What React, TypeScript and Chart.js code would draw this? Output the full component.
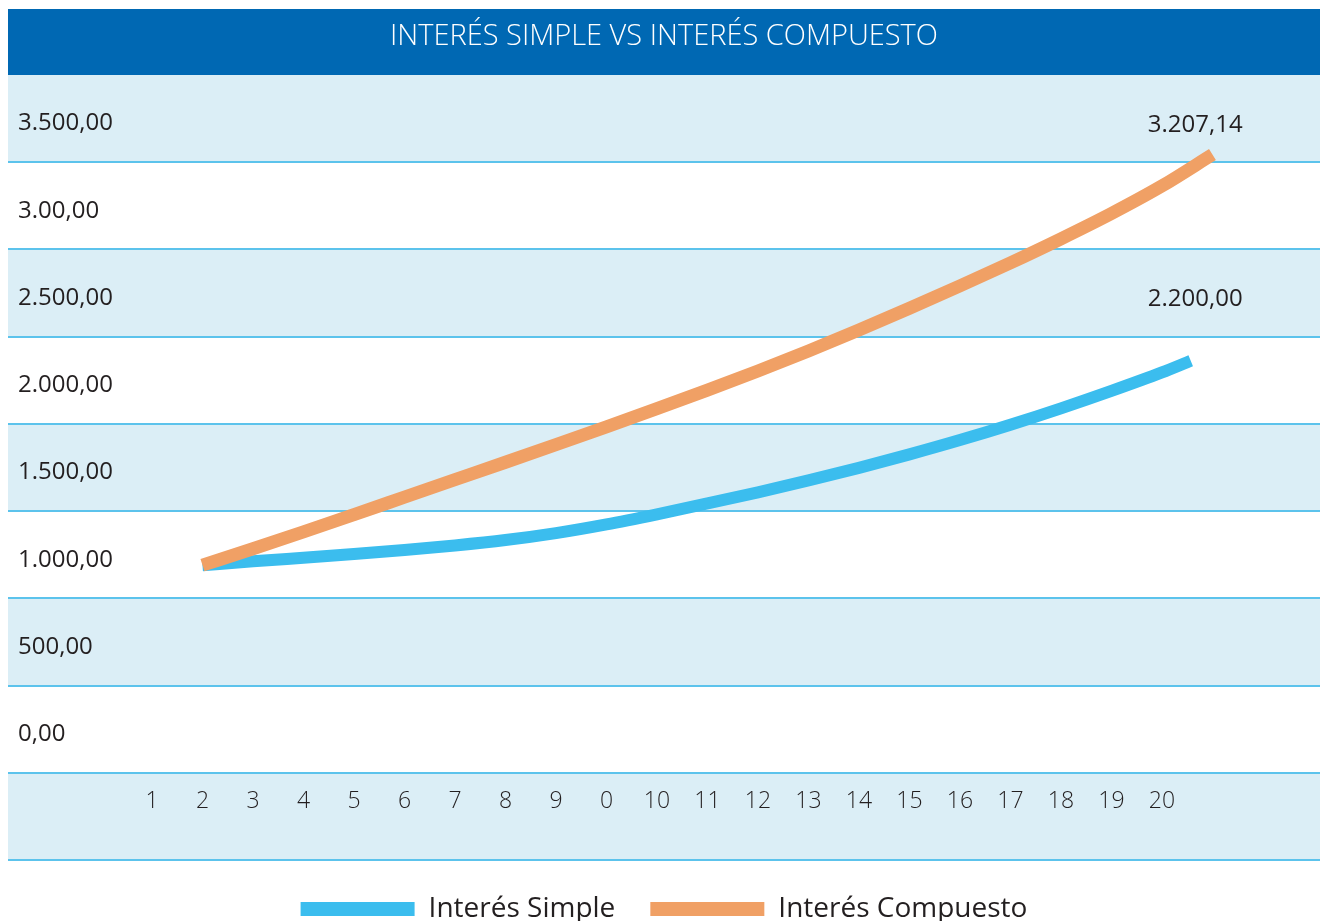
import { useEffect, useRef } from 'react';
import { Chart, registerables } from 'chart.js';

Chart.register(...registerables);

const TITLE = 'INTERÉS SIMPLE VS INTERÉS COMPUESTO';
const SERIES_NAMES = ['Interés Simple', 'Interés Compuesto'];

const X_TICKS = [1, 2, 3, 4, 5, 6, 7, 8, 9, 10, 11, 12, 13, 14, 15, 16, 17, 18, 19, 20, 21];
const X_LABELS = ['1', '2', '3', '4', '5', '6', '7', '8', '9', '0', '10', '11', '12', '13', '14', '15', '16', '17', '18', '19', '20'];

const Y_LABEL_VALUES = [3500, 3000, 2500, 2000, 1500, 1000, 500, 0];
const Y_LABELS = ['3.500,00', '3.00,00', '2.500,00', '2.000,00', '1.500,00', '1.000,00', '500,00', '0,00'];
const Y_GRID_VALUES = [3750, 3250, 2750, 2250, 1750, 1250, 750, 250, -250, -750];
const SHADED_BANDS: [number, number][] = [[3250, 3750], [2250, 2750], [1250, 1750], [250, 750], [-750, -250]];

const SIMPLE_X = [2, 3, 4, 5, 6, 7, 8, 9, 10, 11, 12, 13, 14, 15, 16, 17, 18, 19, 20, 21, 21.57];
const SIMPLE_Y = [940, 962, 983, 1004, 1027, 1053, 1084, 1124, 1174, 1232, 1294, 1358, 1426, 1498, 1575, 1657, 1745, 1839, 1939, 2045, 2112];

const COMPOUND_X = [2, 3, 4, 5, 6, 7, 8, 9, 10, 11, 12, 13, 14, 15, 16, 17, 18, 19, 20, 21, 22];
const COMPOUND_Y = [940, 1034, 1131, 1230, 1330, 1430, 1530, 1631, 1733, 1837, 1943, 2053, 2168, 2288, 2413, 2541, 2673, 2811, 2956, 3114, 3294];

const END_LABELS = ['3.207,14', '2.200,00'];
const END_LABEL_X = [20.72, 20.72];
const END_LABEL_Y = [3460, 2465];

const COLORS = {
  titleBar: '#0068b3',
  band: '#dbeef6',
  grid: '#5cc3ec',
  simple: '#3bbdee',
  compound: '#f0a065',
  text: '#231f20',
};

const FONT = "'Open Sans', 'Noto Sans', sans-serif";

export default function App() {
  const canvasRef = useRef<HTMLCanvasElement | null>(null);

  useEffect(() => {
    const canvas = canvasRef.current;
    if (!canvas) return;

    const decor = {
      id: 'decor',
      beforeDraw(chart: any) {
        const { ctx, chartArea, scales } = chart;
        const y = scales.y;
        const w = chartArea.right - chartArea.left;
        ctx.save();
        const tb = chart.titleBlock;
        ctx.fillStyle = COLORS.titleBar;
        ctx.fillRect(chartArea.left, tb.top, w, chartArea.top - tb.top);
        ctx.fillStyle = COLORS.band;
        for (const [lo, hi] of SHADED_BANDS) {
          const top = y.getPixelForValue(hi);
          const bottom = y.getPixelForValue(lo);
          ctx.fillRect(chartArea.left, top, w, bottom - top);
        }
        ctx.restore();
      },
      afterDatasetsDraw(chart: any) {
        const { ctx, scales } = chart;
        ctx.save();
        ctx.font = `400 24px ${FONT}`;
        ctx.fillStyle = COLORS.text;
        ctx.textAlign = 'left';
        ctx.textBaseline = 'middle';
        END_LABELS.forEach((t, i) => {
          ctx.fillText(t, scales.x.getPixelForValue(END_LABEL_X[i]), scales.y.getPixelForValue(END_LABEL_Y[i]));
        });
        ctx.restore();
      },
    };

    const chart = new Chart(canvas, {
      type: 'line',
      data: {
        datasets: [
          {
            label: SERIES_NAMES[0],
            data: SIMPLE_X.map((x, i) => ({ x, y: SIMPLE_Y[i] })),
            borderColor: COLORS.simple,
            backgroundColor: COLORS.simple,
            borderWidth: 12,
            borderCapStyle: 'butt',
            pointRadius: 0,
            cubicInterpolationMode: 'monotone',
            fill: false,
            order: 1,
          },
          {
            label: SERIES_NAMES[1],
            data: COMPOUND_X.map((x, i) => ({ x, y: COMPOUND_Y[i] })),
            borderColor: COLORS.compound,
            backgroundColor: COLORS.compound,
            borderWidth: 13,
            borderCapStyle: 'butt',
            pointRadius: 0,
            cubicInterpolationMode: 'monotone',
            fill: false,
            order: 0,
          },
        ],
      },
      options: {
        responsive: false,
        animation: false,
        layout: { padding: { top: 1, left: 0, right: 0, bottom: 0 } },
        plugins: {
          tooltip: { enabled: false },
          title: {
            display: true,
            text: TITLE,
            color: '#ffffff',
            font: { family: FONT, size: 29, weight: '300' },
            padding: { top: 10, bottom: 21.2 },
          },
          legend: {
            position: 'bottom',
            labels: {
              boxWidth: 114,
              boxHeight: 14,
              padding: 35,
              color: COLORS.text,
              font: { family: FONT, size: 28, weight: '400' },
              sort: (a: any, b: any) => a.datasetIndex - b.datasetIndex,
              generateLabels: (c: any) =>
                Chart.defaults.plugins.legend.labels.generateLabels(c).map((l: any) => ({
                  ...l,
                  lineWidth: 0,
                  fillStyle: l.strokeStyle,
                })),
            },
          },
        },
        scales: {
          x: {
            type: 'linear',
            min: -1.851,
            max: 24.13,
            position: { y: -250 } as any,
            grid: { display: false, drawTicks: false },
            border: { display: false },
            afterBuildTicks: (s: any) => {
              s.ticks = X_TICKS.map((v) => ({ value: v }));
            },
            ticks: {
              autoSkip: false,
              maxRotation: 0,
              padding: 15,
              color: COLORS.text,
              font: { family: FONT, size: 23, weight: '300' },
              callback: (_v: any, i: number) => X_LABELS[i],
            },
          },
          y: {
            type: 'linear',
            min: -750,
            max: 3750,
            position: 'left',
            grid: {
              drawTicks: false,
              lineWidth: 2,
              color: (ctx: any) =>
                ctx.tick && Y_GRID_VALUES.includes(ctx.tick.value) && ctx.tick.value !== 3750 ? COLORS.grid : 'rgba(0,0,0,0)',
            },
            border: { display: false },
            afterBuildTicks: (s: any) => {
              const vals = [...Y_GRID_VALUES, ...Y_LABEL_VALUES].sort((a, b) => a - b);
              s.ticks = vals.map((v) => ({ value: v }));
            },
            afterFit: (s: any) => {
              s.width = 0;
            },
            ticks: {
              mirror: true,
              padding: 10,
              labelOffset: 5,
              color: COLORS.text,
              font: { family: FONT, size: 24, weight: '400' },
              callback: (v: any) => {
                const i = Y_LABEL_VALUES.indexOf(Number(v));
                return i >= 0 ? Y_LABELS[i] : '';
              },
            },
          },
        },
      },
      plugins: [decor],
    } as any);

    return () => {
      chart.destroy();
    };
  }, []);

  return (
    <div style={{ position: 'fixed', left: 8, top: 8, width: 1312, height: 925, overflow: 'hidden' }}>
      <canvas ref={canvasRef} width={1312} height={925} style={{ display: 'block' }} />
    </div>
  );
}
